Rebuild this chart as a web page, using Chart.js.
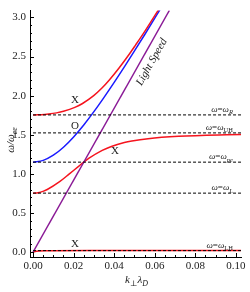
<!DOCTYPE html>
<html><head><meta charset="utf-8">
<script src="https://cdn.jsdelivr.net/npm/chart.js@4/dist/chart.umd.min.js"></script>
<style>html,body{margin:0;padding:0;background:#fff}#wrap{width:250px;height:292px}</style>
</head><body><div id="wrap"><canvas id="c" width="250" height="292"></canvas></div>
<script>
// Data
const kLight = [0, 0.0672];
const wLight = [0, 3.09];
const kRedUpper = [0,0.0023,0.0057,0.0077,0.0116,0.015,0.0206,0.0244,0.0299,0.0341,0.0376,0.0423,0.0466,0.0506,0.0545,0.0582,0.0619];
const wRedUpper = [1.754,1.755,1.76,1.765,1.78,1.80,1.85,1.90,2.00,2.10,2.20,2.35,2.50,2.65,2.80,2.95,3.10];
const kBlue = [0,0.005,0.01,0.015,0.02,0.025,0.03,0.035,0.04,0.045,0.05,0.055,0.06,0.065];
const wBlue = [1.15,1.173,1.239,1.341,1.473,1.626,1.796,1.979,2.170,2.368,2.572,2.779,2.990,3.204];
const kRedLower = [0,0.0025,0.0052,0.007,0.0131,0.0179,0.0226,0.025,0.0276,0.0341,0.0386,0.045,0.0487,0.0567,0.0717,0.0952,0.1064];
const wRedLower = [0.754,0.76,0.78,0.80,0.90,1.00,1.10,1.15,1.20,1.30,1.35,1.40,1.42,1.45,1.48,1.50,1.505];
const kRedLH = [0,0.001,0.003,0.006,0.01,0.03,0.06,0.1064];
const wRedLH = [0,0.008,0.014,0.017,0.018,0.019,0.019,0.019];
const levelNames = ['R','UH','pe','L','LH'];
const levelItalic = [true,false,true,true,false];
const levelValues = [1.754,1.524,1.15,0.754,0.019];
const levelKEnd = 0.1025;
const xTicks = [0,0.02,0.04,0.06,0.08,0.10];
const yTicks = [0,0.5,1.0,1.5,2.0,2.5,3.0];
const modeLabels = ['X','O','X','X'];
const modeLabelK = [0.0207,0.0207,0.0404,0.0207];
const modeLabelW = [1.94,1.61,1.29,0.10];

const pts = (ks, ws) => ks.map((k,i)=>({x:k,y:ws[i]}));
const SERIF = '"Liberation Serif","DejaVu Serif",serif';

const datasets = [];
levelValues.forEach(v=>{
  datasets.push({data:[{x:0,y:v},{x:levelKEnd,y:v}],borderColor:'#000',borderWidth:1,borderDash:[3,2],pointRadius:0,showLine:true,fill:false});
});
datasets.push({data:pts(kLight,wLight),borderColor:'#8a1a96',borderWidth:1.4,pointRadius:0,showLine:true});
datasets.push({data:pts(kRedUpper,wRedUpper),borderColor:'#f5141e',borderWidth:1.5,pointRadius:0,showLine:true,cubicInterpolationMode:'monotone'});
datasets.push({data:pts(kBlue,wBlue),borderColor:'#1a1aff',borderWidth:1.5,pointRadius:0,showLine:true,cubicInterpolationMode:'monotone'});
datasets.push({data:pts(kRedLower,wRedLower),borderColor:'#f5141e',borderWidth:1.5,pointRadius:0,showLine:true,cubicInterpolationMode:'monotone'});
datasets.push({data:pts(kRedLH,wRedLH),borderColor:'#f5141e',borderWidth:1.5,pointRadius:0,showLine:true,cubicInterpolationMode:'monotone'});

function drawRich(ctx, x, y, parts, size, align){
  let w = 0;
  const fonts = parts.map(p=>{
    const s = p.sub ? size*0.72 : size;
    const f = (p.it?'italic ':'') + s + 'px ' + SERIF;
    ctx.font = f; const mw = ctx.measureText(p.t).width; w += mw;
    return {f, mw, s};
  });
  let cx = align==='right' ? x - w : (align==='center' ? x - w/2 : x);
  ctx.textAlign='left'; ctx.textBaseline='alphabetic';
  parts.forEach((p,i)=>{
    ctx.font = fonts[i].f;
    ctx.fillText(p.t, cx, p.sub ? y + size*0.28 : y);
    cx += fonts[i].mw;
  });
}

const annot = {
  id:'annot',
  afterDraw(chart){
    const ctx = chart.ctx, xs = chart.scales.x, ys = chart.scales.y, ca = chart.chartArea;
    const px = v=>xs.getPixelForValue(v), py = v=>ys.getPixelForValue(v);
    ctx.save();
    ctx.strokeStyle='#000'; ctx.lineWidth=1;
    // inward ticks
    ctx.beginPath();
    for(let i=0;i<=20;i++){ const v=i*0.005; const X=Math.round(px(v))+0.5; const L=(i%4===0)?4:2; ctx.moveTo(X,ca.bottom); ctx.lineTo(X,ca.bottom-L); }
    for(let i=0;i<=30;i++){ const v=i*0.1; const Y=Math.round(py(v))+0.5; const L=(i%5===0)?4:2; ctx.moveTo(ca.left,Y); ctx.lineTo(ca.left+L,Y); }
    ctx.stroke();
    ctx.fillStyle='#222';
    // mode labels
    ctx.font = '11px '+SERIF; ctx.textAlign='center'; ctx.textBaseline='middle';
    modeLabels.forEach((t,i)=>ctx.fillText(t, px(modeLabelK[i]), py(modeLabelW[i])));
    // level labels
    levelNames.forEach((n,i)=>{
      drawRich(ctx, px(0.0985), py(levelValues[i])-3, [{t:'ω',it:true},{t:'=',it:false},{t:'ω',it:true},{t:n,it:levelItalic[i],sub:true}], 9, 'right');
    });
    // light speed label
    const a = Math.atan2(py(wLight[1])-py(wLight[0]), px(kLight[1])-px(kLight[0]));
    ctx.save();
    ctx.translate(px(0.0585), py(2.43)); ctx.rotate(a);
    ctx.font='italic 11px '+SERIF; ctx.textAlign='center'; ctx.textBaseline='middle';
    ctx.fillText('Light Speed',0,0);
    ctx.restore();
    // axis titles
    ctx.save();
    ctx.translate(11,140); ctx.rotate(-Math.PI/2);
    drawRich(ctx,0,3,[{t:'ω/ω',it:true},{t:'ce',it:true,sub:true}],11,'center');
    ctx.restore();
    drawRich(ctx, (ca.left+ca.right)/2+1, 283, [{t:'k',it:true},{t:'⊥',it:false,sub:true},{t:'λ',it:true},{t:'D',it:true,sub:true}], 11, 'center');
    ctx.restore();
  }
};

new Chart(document.getElementById('c'), {
  type:'scatter',
  data:{datasets},
  options:{
    responsive:false, animation:false, devicePixelRatio:1,
    layout:{padding:{left:0,top:5,right:9,bottom:0}},
    plugins:{legend:{display:false},tooltip:{enabled:false}},
    elements:{line:{tension:0}},
    scales:{
      x:{type:'linear',min:-0.0015,max:0.1025,
        afterBuildTicks:s=>{s.ticks=xTicks.map(v=>({value:v}));},
        afterFit:s=>{s.height=35;},
        grid:{display:false,drawTicks:false},
        border:{display:true,color:'#000',width:1},
        ticks:{padding:3,color:'#222',font:{family:SERIF,size:11},maxRotation:0,autoSkip:false,callback:v=>Number(v).toFixed(2)}},
      y:{type:'linear',min:-0.0625,max:3.0875,
        afterBuildTicks:s=>{s.ticks=yTicks.map(v=>({value:v}));},
        afterFit:s=>{s.width=30;},
        grid:{display:false,drawTicks:false},
        border:{display:true,color:'#000',width:1},
        ticks:{padding:4,color:'#222',font:{family:SERIF,size:11},autoSkip:false,callback:v=>Number(v).toFixed(1)}}
    }
  },
  plugins:[annot]
});
</script></body></html>
